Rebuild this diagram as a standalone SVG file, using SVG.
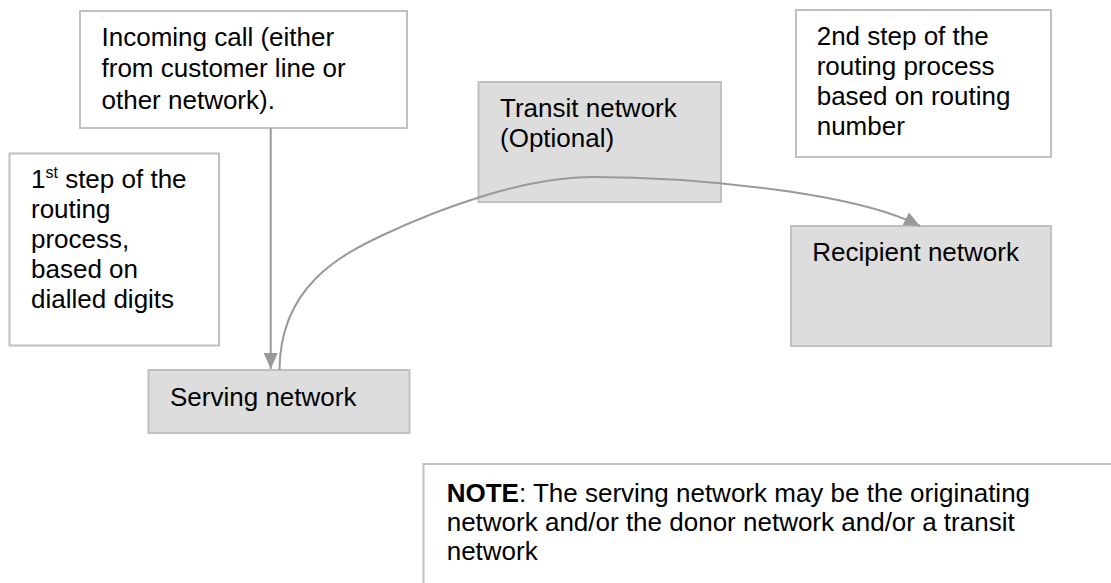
<svg xmlns="http://www.w3.org/2000/svg" width="1111" height="583" viewBox="0 0 1111 583">
<style>
.box{fill:#ffffff;stroke:#c0c0c0;stroke-width:2}
.net{fill:#dddddd;stroke:#c0c0c0;stroke-width:2}
text{font-family:"Liberation Sans",Arial,sans-serif;font-size:26px;fill:#000}
.conn{fill:none;stroke:#999999;stroke-width:2}
</style>
<defs>
<marker id="arr" markerUnits="userSpaceOnUse" markerWidth="18" markerHeight="16" refX="16" refY="7" orient="auto">
<path d="M0,0 L16,7 L0,14 z" fill="#999999"/>
</marker>
</defs>
<rect width="1111" height="583" fill="#ffffff"/>
<g id="incoming">
<rect class="box" x="80" y="11" width="327" height="117"/>
<text x="101.5" y="45.5">Incoming call (either</text>
<text x="101.5" y="77">from customer line or</text>
<text x="101.5" y="108.5">other network).</text>
</g>
<g id="step1">
<rect class="box" x="9.5" y="153.5" width="209.5" height="192"/>
<text x="31" y="188">1<tspan font-size="16" dy="-10">st</tspan><tspan dy="10"> step of the</tspan></text>
<text x="31" y="218">routing</text>
<text x="31" y="248">process,</text>
<text x="31" y="278">based on</text>
<text x="31" y="308">dialled digits</text>
</g>
<g id="serving">
<rect class="net" x="148.5" y="370" width="261" height="63"/>
<text x="170" y="405.5">Serving network</text>
</g>
<g id="transit">
<rect class="net" x="478.5" y="82" width="242.5" height="120"/>
<text x="500" y="116.5">Transit network</text>
<text x="500" y="147">(Optional)</text>
</g>
<g id="step2">
<rect class="box" x="796" y="10" width="255" height="147"/>
<text x="816.7" y="45">2nd step of the</text>
<text x="816.7" y="75">routing process</text>
<text x="816.7" y="105">based on routing</text>
<text x="816.7" y="135">number</text>
</g>
<g id="recipient">
<rect class="net" x="791" y="226" width="260" height="120"/>
<text x="812.3" y="261">Recipient network</text>
</g>
<g id="note">
<rect class="box" x="423.5" y="464" width="720" height="160"/>
<text x="446.7" y="501.7"><tspan font-weight="bold">NOTE</tspan>: The serving network may be the originating</text>
<text x="446.7" y="531">network and/or the donor network and/or a transit</text>
<text x="446.7" y="560.3">network</text>
</g>
<g id="connectors">
<line class="conn" x1="270.7" y1="128" x2="270.7" y2="369" marker-end="url(#arr)"/>
<path class="conn" d="M279.5,370 C280,285 343,254 383,235 C433,211.5 520,177 593,177 C680,177 850,190 920,226" marker-end="url(#arr)"/>
</g>
</svg>
